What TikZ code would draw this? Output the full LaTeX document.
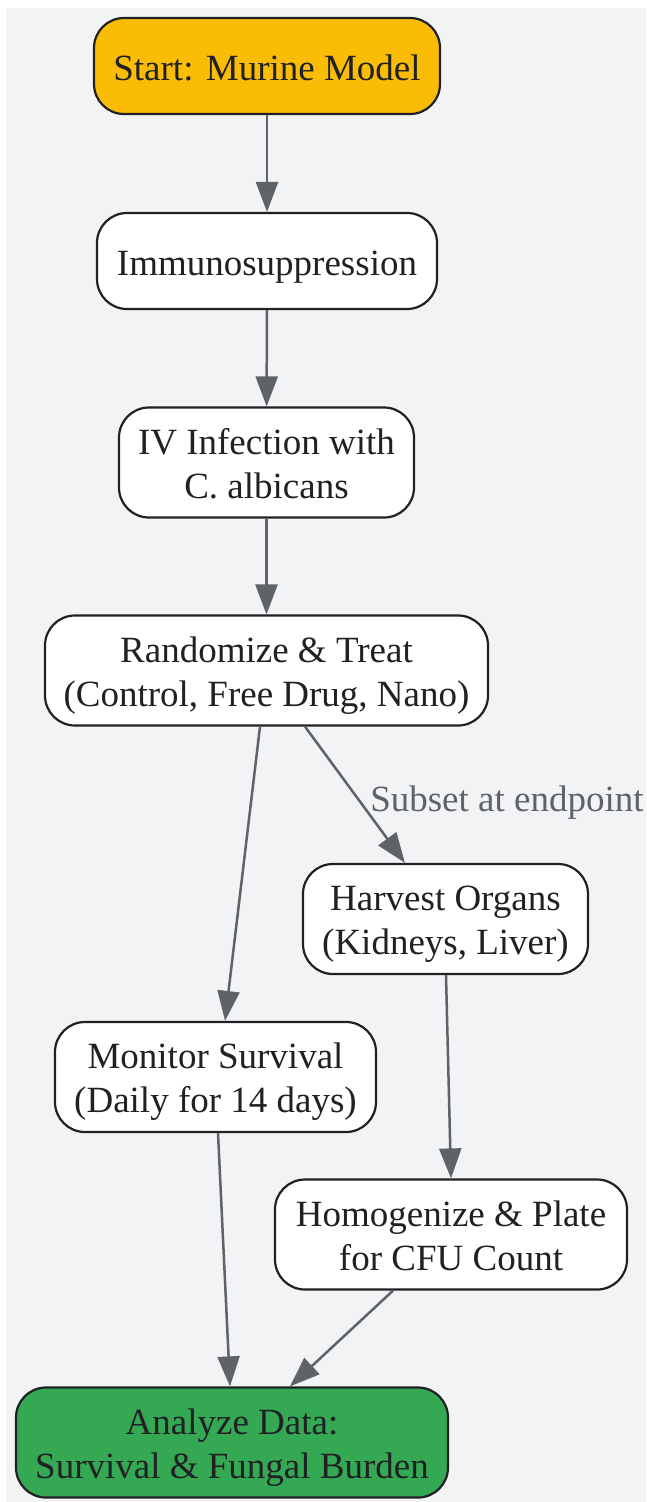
\documentclass[tikz,border=0pt]{standalone}
\usepackage{fontspec}
\setmainfont{Liberation Serif}
\usepackage{xcolor}
\usetikzlibrary{positioning,arrows.meta}
\definecolor{bgray}{HTML}{F1F3F4}
\definecolor{edgegray}{HTML}{5F6368}
\definecolor{inkdark}{HTML}{202124}
\definecolor{startyellow}{HTML}{FBBC05}
\definecolor{endgreen}{HTML}{34A853}
\tikzset{
  stepbox/.style={draw=inkdark, line width=2.2pt, fill=white, rounded corners=30pt,
    text=inkdark, align=center, inner sep=0pt, minimum height=110pt,
    text height=79pt, text depth=8pt,
    font=\fontsize{37}{44}\selectfont},
  oneline/.style={minimum height=96pt, text height=36.5pt, text depth=8pt},
  flow/.style={draw=edgegray, line width=2.5pt, -{Triangle[length=30pt,width=22pt]}},
  edgelabel/.style={text=edgegray, inner sep=0pt, font=\fontsize{37}{44}\selectfont}
}
\begin{document}
\begin{tikzpicture}[x=1pt, y=-1pt]
    \useasboundingbox (0,0) rectangle (646,1502);
    \fill[bgray] (6,8) rectangle (646,1502);

    % Main chain
    \node[stepbox, oneline, fill=startyellow, minimum width=346pt] (start) at (267,66) {Start: Murine Model};
    \node[stepbox, oneline, minimum width=340pt] (immuno) at (267,261) {Immunosuppression};
    \node[stepbox, minimum width=295pt] (infect) at (266.5,462.5) {IV Infection with\\C. albicans};
    \node[stepbox, minimum width=443pt] (treat) at (266.5,670.5) {Randomize \& Treat\\(Control, Free Drug, Nano)};

    % Branches
    \node[stepbox, minimum width=285pt] (harvest) at (445.5,919) {Harvest Organs\\(Kidneys, Liver)};
    \node[stepbox, minimum width=321pt] (survival) at (215.5,1077) {Monitor Survival\\(Daily for 14 days)};
    \node[stepbox, minimum width=352pt] (plate) at (451,1234.5) {Homogenize \& Plate\\for CFU Count};
    \node[stepbox, fill=endgreen, minimum width=432pt] (analyze) at (232,1442.5) {Analyze Data:\\Survival \& Fungal Burden};

    \draw[flow] (start) -- (immuno);
    \draw[flow] (immuno) -- (infect);
    \draw[flow] (infect) -- (treat);
    \draw[flow] ([xshift=-6.5pt]treat.south) -- ([xshift=9.5pt]survival.north);
    \draw[flow] ([xshift=38.5pt]treat.south) -- ([xshift=-40.5pt]harvest.north)
        node[edgelabel, midway, anchor=west, xshift=14pt, yshift=-8pt] {Subset at endpoint};
    \draw[flow] ([xshift=0.5pt]harvest.south) -- (plate.north);
    \draw[flow] ([xshift=2.5pt]survival.south) -- ([xshift=-2pt]analyze.north);
    \draw[flow] ([xshift=-58pt]plate.south) -- ([xshift=58pt]analyze.north);
\end{tikzpicture}
\end{document}
